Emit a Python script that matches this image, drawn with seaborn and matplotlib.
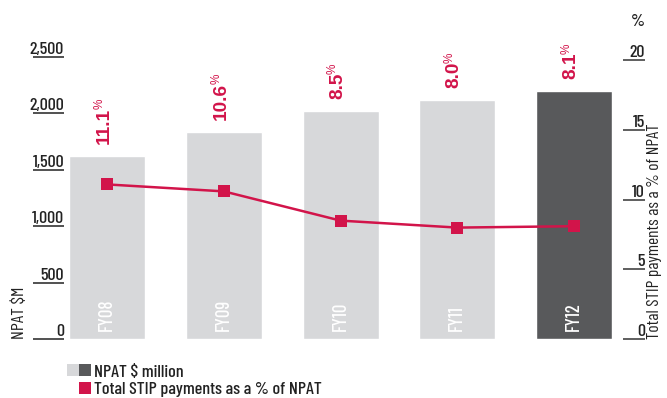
import matplotlib
matplotlib.use("Agg")
import matplotlib.pyplot as plt
from matplotlib.patches import Rectangle
from matplotlib.legend_handler import HandlerBase
import numpy as np
import pandas as pd
import seaborn as sns

# ---- data ----
years = ["FY08", "FY09", "FY10", "FY11", "FY12"]
npat = [1620, 1835, 2020, 2120, 2200]
stip_pct = [11.1, 10.6, 8.5, 8.0, 8.1]
pct_labels = ["11.1", "10.6", "8.5", "8.0", "8.1"]
left_ticks = [0, 500, 1000, 1500, 2000, 2500]
left_tick_labels = ["0", "500", "1,000", "1,500", "2,000", "2,500"]
right_ticks = [0, 5, 10, 15, 20]
right_tick_labels = ["0", "5", "10", "15", "20"]

LIGHT = "#D7D8DA"
DARK = "#58595B"
RED = "#D2144A"
TXT = "#222222"
bar_colors = [LIGHT, LIGHT, LIGHT, LIGHT, DARK]

sns.set_style("white")
NARROW = ["Barlow Condensed", "DejaVu Sans"]
BOLD = ["Liberation Sans", "DejaVu Sans"]
plt.rcParams["font.family"] = NARROW
plt.rcParams["font.weight"] = "medium"

fig = plt.figure(figsize=(6.67, 3.98), dpi=100)
W, H = 667.0, 398.0
ax = fig.add_axes([64 / W, (H - 339) / H, (623 - 64) / W, 282 / H])

df = pd.DataFrame({"year": years, "npat": npat, "pct": stip_pct})
sns.barplot(data=df, x="year", y="npat", hue="year", palette=bar_colors,
            width=0.65, legend=False, ax=ax, saturation=1)
ax.set_xlim(-0.37, 4.42)
ax.set_ylim(0, 2500)
ax.set_xlabel("")
ax.tick_params(axis="x", bottom=False, labelbottom=False)
for s in ax.spines.values():
    s.set_visible(False)

ax.set_yticks(left_ticks)
ax.set_yticklabels(left_tick_labels)
ax.tick_params(axis="y", left=True, length=22.3, width=1.1, color=TXT,
               pad=-22.3, labelsize=13, labelcolor=TXT)
for lab in ax.get_yticklabels():
    lab.set_verticalalignment("bottom")

ax.set_ylabel("NPAT $M", fontsize=13, color=TXT, loc="bottom")
ax.yaxis.set_label_coords(-0.066, 0)

# FY labels inside bars
for i, yr in enumerate(years):
    ax.annotate(yr, xy=(i, 0), xytext=(0, 6.0), textcoords="offset points",
                rotation=90, ha="center", va="bottom", color="white",
                fontsize=13.5)

# percentage labels above bars
num_texts = []
for i, lab in enumerate(pct_labels):
    t = ax.annotate(lab, xy=(i, npat[i]), xytext=(-2.2, 8.5),
                    textcoords="offset points", rotation=90, ha="center",
                    va="bottom", color=RED, fontsize=13.7, fontweight="bold",
                    family=BOLD)
    num_texts.append(t)

# secondary axis
ax2 = ax.twinx()
sns.lineplot(x=np.arange(len(years)), y=stip_pct, ax=ax2, color=RED,
             linewidth=1.8, marker="s", markersize=8, markeredgewidth=0)
ax2.set_ylim(0, 20.25)
ax2.set_xlim(-0.37, 4.42)
for s in ax2.spines.values():
    s.set_visible(False)
ax2.set_yticks(right_ticks)
ax2.set_yticklabels(right_tick_labels)
ax2.tick_params(axis="y", right=True, length=15.8, width=1.1, color="#333333",
                pad=0, labelsize=13, labelcolor=TXT)
for lab in ax2.get_yticklabels():
    lab.set_verticalalignment("bottom")
    lab.set_horizontalalignment("right")
ax2.set_ylabel("Total STIP payments as a % of NPAT", fontsize=12.5,
               color=TXT, loc="bottom")
ax2.yaxis.set_label_coords(1.043, 0)
ax2.text(1.0394, 1.10, "%", transform=ax2.transAxes, ha="right", va="bottom",
         fontsize=13, color=TXT)


class TwoSquares(HandlerBase):
    def create_artists(self, legend, orig_handle, xdescent, ydescent,
                       width, height, fontsize, trans):
        r1 = Rectangle((-xdescent - width, -ydescent), width, height,
                       facecolor=LIGHT, edgecolor="none", transform=trans)
        r2 = Rectangle((-xdescent, -ydescent), width, height,
                       facecolor=DARK, edgecolor="none", transform=trans)
        return [r1, r2]


h1 = Rectangle((0, 0), 1, 1, facecolor=DARK)
h2 = Rectangle((0, 0), 1, 1, facecolor=RED, edgecolor="none")
fig.legend([h1, h2], ["NPAT $ million", "Total STIP payments as a % of NPAT"],
           handler_map={h1: TwoSquares()}, loc="upper left",
           bbox_to_anchor=(79 / W, (H - 364) / H), frameon=False,
           borderpad=0, borderaxespad=0, handlelength=0.68, handleheight=0.68,
           handletextpad=0.15, labelspacing=0.12, fontsize=13,
           labelcolor=TXT)

# superscript % signs placed right after each number
fig.canvas.draw()
renderer = fig.canvas.get_renderer()
inv = ax.transData.inverted()
for i, t in enumerate(num_texts):
    bb = t.get_window_extent(renderer)
    cx = (bb.x0 + bb.x1) / 2.0
    px, py = inv.transform((cx - 4.5, bb.y1 - 1.0))
    ax.text(px, py, "%", rotation=90, ha="center", va="bottom", color=RED,
            fontsize=8.5, family=BOLD)

fig.savefig("out.png", dpi=100)
